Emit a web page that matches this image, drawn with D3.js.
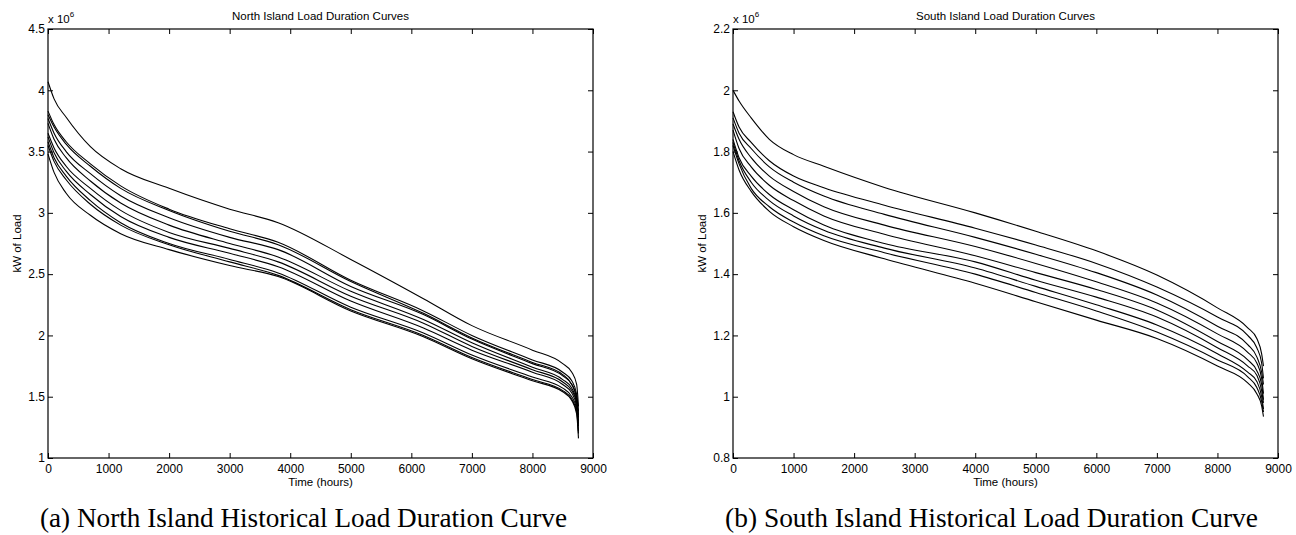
<!DOCTYPE html>
<html>
<head>
<meta charset="utf-8">
<script src="https://cdn.jsdelivr.net/npm/d3@7"></script>
<style>
  html, body { margin: 0; padding: 0; background: #fff; }
  svg { display: block; }
  .tick text { font-family: "Liberation Sans", Arial, sans-serif; }
</style>
</head>
<body>
<div id="chart"></div>
<script>
// load values are in units of 10^6 kW
const niHours = [0, 100, 300, 700, 1200, 2000, 3000, 3800, 5000, 6200, 7000, 8000, 8500, 8650, 8730, 8760];
const niCurves = [
  [4.07, 3.93, 3.78, 3.54, 3.36, 3.20, 3.03, 2.92, 2.62, 2.30, 2.08, 1.88, 1.77, 1.70, 1.60, 1.42],
  [3.83, 3.72, 3.58, 3.40, 3.22, 3.03, 2.87, 2.76, 2.45, 2.20, 2.00, 1.80, 1.70, 1.63, 1.52, 1.35],
  [3.80, 3.70, 3.56, 3.38, 3.20, 3.02, 2.85, 2.74, 2.44, 2.18, 1.98, 1.78, 1.68, 1.60, 1.50, 1.38],
  [3.77, 3.65, 3.50, 3.32, 3.14, 2.96, 2.80, 2.70, 2.40, 2.17, 1.97, 1.77, 1.67, 1.60, 1.48, 1.33],
  [3.73, 3.60, 3.45, 3.26, 3.08, 2.90, 2.75, 2.64, 2.36, 2.13, 1.94, 1.74, 1.64, 1.57, 1.46, 1.30],
  [3.65, 3.53, 3.38, 3.20, 3.02, 2.84, 2.71, 2.60, 2.32, 2.10, 1.91, 1.72, 1.62, 1.55, 1.45, 1.28],
  [3.62, 3.49, 3.34, 3.15, 2.97, 2.80, 2.67, 2.56, 2.28, 2.06, 1.88, 1.70, 1.60, 1.53, 1.42, 1.26],
  [3.58, 3.45, 3.30, 3.10, 2.92, 2.75, 2.62, 2.51, 2.23, 2.02, 1.84, 1.66, 1.57, 1.50, 1.40, 1.22],
  [3.55, 3.42, 3.27, 3.07, 2.90, 2.74, 2.60, 2.49, 2.21, 2.00, 1.82, 1.64, 1.55, 1.48, 1.38, 1.20],
  [3.48, 3.33, 3.16, 2.98, 2.83, 2.70, 2.57, 2.48, 2.20, 1.99, 1.81, 1.63, 1.54, 1.47, 1.36, 1.16]
];

const siHours = [0, 100, 300, 600, 1000, 1500, 2500, 4000, 5000, 6000, 7000, 8000, 8500, 8650, 8730, 8760];
const siCurves = [
  [2.00, 1.965, 1.91, 1.84, 1.79, 1.752, 1.683, 1.60, 1.54, 1.476, 1.397, 1.29, 1.225, 1.19, 1.14, 1.10],
  [1.93, 1.88, 1.83, 1.77, 1.72, 1.682, 1.625, 1.55, 1.495, 1.435, 1.358, 1.26, 1.20, 1.16, 1.11, 1.06],
  [1.91, 1.86, 1.81, 1.75, 1.70, 1.655, 1.595, 1.52, 1.465, 1.405, 1.332, 1.23, 1.17, 1.13, 1.08, 1.04],
  [1.89, 1.84, 1.78, 1.72, 1.67, 1.62, 1.56, 1.49, 1.435, 1.375, 1.306, 1.205, 1.145, 1.11, 1.06, 1.01],
  [1.87, 1.81, 1.75, 1.69, 1.64, 1.59, 1.53, 1.46, 1.405, 1.35, 1.283, 1.18, 1.12, 1.085, 1.04, 0.99],
  [1.84, 1.78, 1.72, 1.66, 1.61, 1.56, 1.50, 1.44, 1.38, 1.325, 1.26, 1.16, 1.10, 1.07, 1.02, 0.98],
  [1.83, 1.77, 1.70, 1.64, 1.59, 1.543, 1.485, 1.42, 1.36, 1.30, 1.234, 1.14, 1.08, 1.05, 1.00, 0.96],
  [1.82, 1.76, 1.68, 1.62, 1.57, 1.525, 1.47, 1.40, 1.34, 1.28, 1.211, 1.12, 1.065, 1.03, 0.985, 0.95],
  [1.80, 1.74, 1.67, 1.605, 1.555, 1.51, 1.45, 1.37, 1.31, 1.25, 1.19, 1.10, 1.045, 1.01, 0.97, 0.935]
];

const hourTicks = [0, 1000, 2000, 3000, 4000, 5000, 6000, 7000, 8000, 9000];
const niLoadTicks = [1, 1.5, 2, 2.5, 3, 3.5, 4, 4.5];
const siLoadTicks = [0.8, 1, 1.2, 1.4, 1.6, 1.8, 2, 2.2];

const W = 1296, H = 535;
const SANS = '"Liberation Sans", Arial, Helvetica, sans-serif';
const SERIF = '"Liberation Serif", "DejaVu Serif", serif';

const svg = d3.select('#chart').append('svg')
  .attr('width', W).attr('height', H)
  .attr('viewBox', `0 0 ${W} ${H}`);
svg.append('rect').attr('width', W).attr('height', H).attr('fill', '#fff');

const fmt = d => String(+d.toFixed(1));

function drawPanel(cfg) {
  const { left, right, top, bottom } = cfg;
  const x = d3.scaleLinear().domain([0, 9000]).range([left, right]);
  const y = d3.scaleLinear().domain(cfg.yDomain).range([bottom, top]);

  const g = svg.append('g');

  // curves
  const line = d3.line()
    .x((d, i) => x(cfg.hours[i]))
    .y(d => y(d))
    .curve(d3.curveMonotoneX);
  g.append('g')
    .selectAll('path')
    .data(cfg.curves)
    .join('path')
    .attr('d', line)
    .attr('fill', 'none')
    .attr('stroke', '#000')
    .attr('stroke-width', 1.1);

  // axes with inward ticks (MATLAB style)
  const styleAxis = sel => {
    sel.select('.domain').remove();
    sel.selectAll('line').attr('stroke', '#000').attr('stroke-width', 1);
    sel.selectAll('text').attr('fill', '#000').style('font-size', '12px');
  };
  g.append('g').attr('transform', `translate(0,${bottom})`)
    .call(d3.axisBottom(x).tickValues(hourTicks).tickSizeInner(-5).tickSizeOuter(0).tickPadding(6).tickFormat(d3.format('d')))
    .call(styleAxis);
  g.append('g').attr('transform', `translate(0,${top})`)
    .call(d3.axisTop(x).tickValues(hourTicks).tickSizeInner(-5).tickSizeOuter(0).tickFormat(''))
    .call(styleAxis);
  g.append('g').attr('transform', `translate(${left},0)`)
    .call(d3.axisLeft(y).tickValues(cfg.yTicks).tickSizeInner(-5).tickSizeOuter(0).tickPadding(3).tickFormat(fmt))
    .call(styleAxis);
  g.append('g').attr('transform', `translate(${right},0)`)
    .call(d3.axisRight(y).tickValues(cfg.yTicks).tickSizeInner(-5).tickSizeOuter(0).tickFormat(''))
    .call(styleAxis);

  g.append('rect')
    .attr('x', left).attr('y', top)
    .attr('width', right - left).attr('height', bottom - top)
    .attr('fill', 'none').attr('stroke', '#000').attr('stroke-width', 1.2);

  // exponent label
  const exp = g.append('text')
    .attr('x', left).attr('y', top - 6)
    .style('font-family', SANS).style('font-size', '11.5px');
  exp.append('tspan').text('x 10');
  exp.append('tspan').attr('dy', -6).style('font-size', '8px').text('6');

  // title
  g.append('text')
    .attr('x', (left + right) / 2).attr('y', top - 9)
    .attr('text-anchor', 'middle')
    .style('font-family', SANS).style('font-size', '11.5px')
    .text(cfg.title);

  // axis labels
  g.append('text')
    .attr('x', (left + right) / 2).attr('y', bottom + 28)
    .attr('text-anchor', 'middle')
    .style('font-family', SANS).style('font-size', '11.5px')
    .text('Time (hours)');
  g.append('text')
    .attr('transform', `translate(${left - 27},${(top + bottom) / 2}) rotate(-90)`)
    .attr('text-anchor', 'middle')
    .style('font-family', SANS).style('font-size', '11.5px')
    .text('kW of Load');

  // caption below the panel, fitted to its measured width
  const cap = svg.append('text')
    .attr('x', cfg.capCenter).attr('y', 527)
    .attr('text-anchor', 'middle')
    .style('font-family', SERIF).style('font-size', '22px')
    .text(cfg.caption);
  const len = cap.node().getComputedTextLength();
  cap.style('font-size', (22 * cfg.capWidth / len).toFixed(2) + 'px');
}

drawPanel({
  left: 48, right: 593, top: 29, bottom: 458,
  yDomain: [1, 4.5], yTicks: niLoadTicks,
  hours: niHours, curves: niCurves,
  title: 'North Island Load Duration Curves',
  caption: '(a) North Island Historical Load Duration Curve',
  capCenter: 303.5, capWidth: 527
});

drawPanel({
  left: 733, right: 1278, top: 29, bottom: 458,
  yDomain: [0.8, 2.2], yTicks: siLoadTicks,
  hours: siHours, curves: siCurves,
  title: 'South Island Load Duration Curves',
  caption: '(b) South Island Historical Load Duration Curve',
  capCenter: 991.5, capWidth: 533
});
</script>
</body>
</html>
